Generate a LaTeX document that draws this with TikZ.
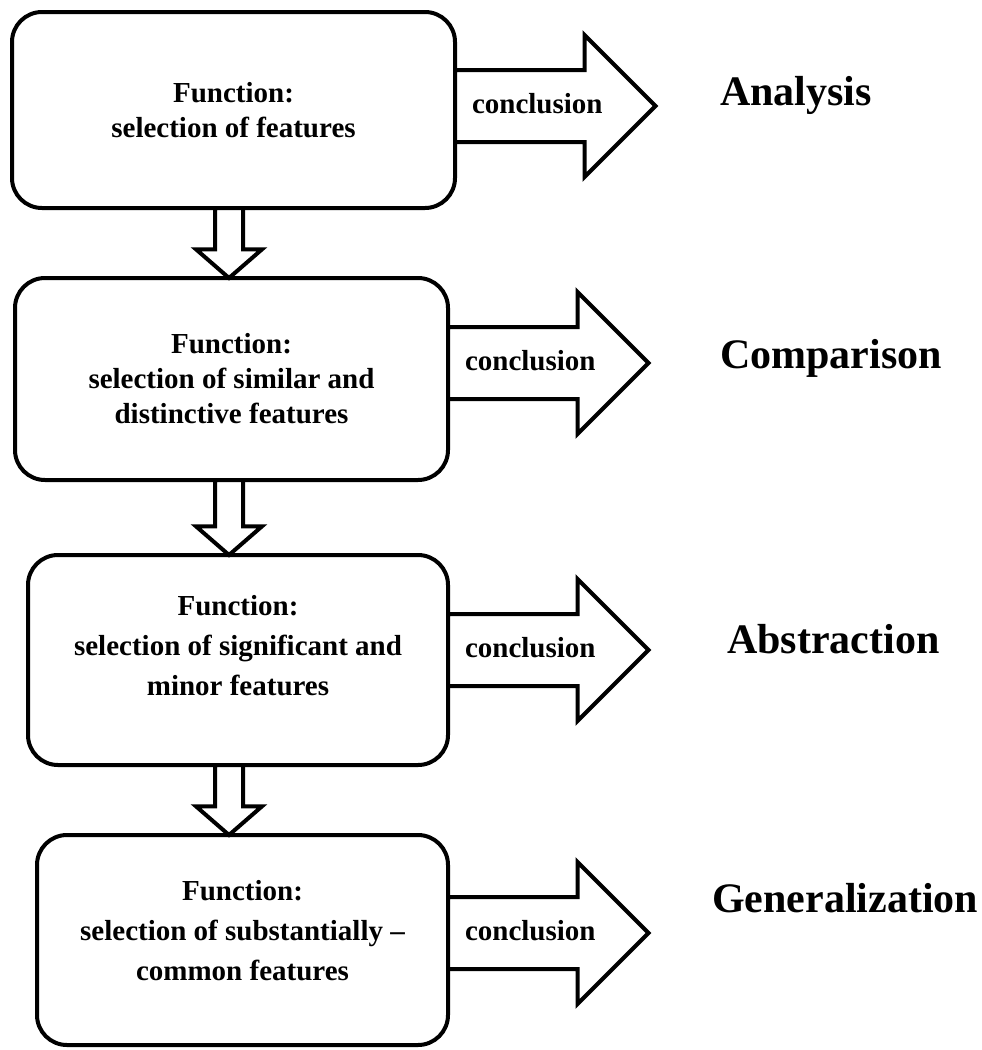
\documentclass[tikz,border=0pt]{standalone}
\usepackage{fontspec}
\setmainfont{Liberation Serif}
\usetikzlibrary{shapes.arrows}

\tikzset{
  funcbox/.style={draw, line width=4pt, rounded corners=30pt, align=center, outer sep=0pt,
    inner sep=0pt, font=\bfseries\fontsize{29}{35}\selectfont},
  widebox/.style={funcbox, font=\bfseries\fontsize{29}{40}\selectfont},
  concl/.style={single arrow, draw, line width=4pt, fill=white, outer sep=0pt,
    font=\bfseries\fontsize{29}{35}\selectfont, text height=20pt, text depth=6pt,
    inner xsep=15pt, inner ysep=21pt, single arrow head extend=35pt, single arrow tip angle=90},
  downarr/.style={single arrow, draw, line width=4pt, fill=white, rotate=-90, outer sep=0pt,
    minimum height=#1, inner xsep=0pt, inner ysep=12pt, single arrow head extend=19pt,
    single arrow tip angle=98},
  downarr/.default=70pt,
  result/.style={anchor=base west, inner sep=0pt, font=\bfseries\fontsize{42}{50}\selectfont}
}

\begin{document}
\begin{tikzpicture}[x=1pt,y=-1pt]
  \useasboundingbox (0,0) rectangle (982,1050);
  \coordinate (ax) at (229,0);
  \node[funcbox, minimum width=443pt, minimum height=196pt] (b1) at (233.5,110) {Function:\\selection of features};
  \node[funcbox, minimum width=433pt, minimum height=202pt] (b2) at (231.5,379) {Function:\\selection of similar and\\distinctive features};
  \node[widebox, minimum width=420pt, minimum height=210pt, text depth=30pt] (b3) at (238,660) {Function:\\selection of significant and\\minor features};
  \node[widebox, minimum width=411pt, minimum height=210pt, text depth=20pt] (b4) at (242.5,940) {Function:\\selection of substantially \textendash\\common features};
  \node[downarr, anchor=tail] (d1) at (b1.south -| ax) {};
  \node[downarr=75pt, anchor=tail] (d2) at (b2.south -| ax) {};
  \node[downarr, anchor=tail] (d3) at (b3.south -| ax) {};
  \node[concl, anchor=tail, yshift=4pt] (c1) at (b1.east) {conclusion};
  \node[concl, anchor=tail, yshift=16pt] (c2) at (b2.east) {conclusion};
  \node[concl, anchor=tail, yshift=10pt] (c3) at (b3.east) {conclusion};
  \node[concl, anchor=tail, yshift=7pt] (c4) at (b4.east) {conclusion};
  \node[result] (an) at (720,105) {Analysis};
  \node[result] (cmp) at (720,368) {Comparison};
  \node[result] (abs) at (727,653) {Abstraction};
  \node[result] (gen) at (712,912) {Generalization};
\end{tikzpicture}
\end{document}
